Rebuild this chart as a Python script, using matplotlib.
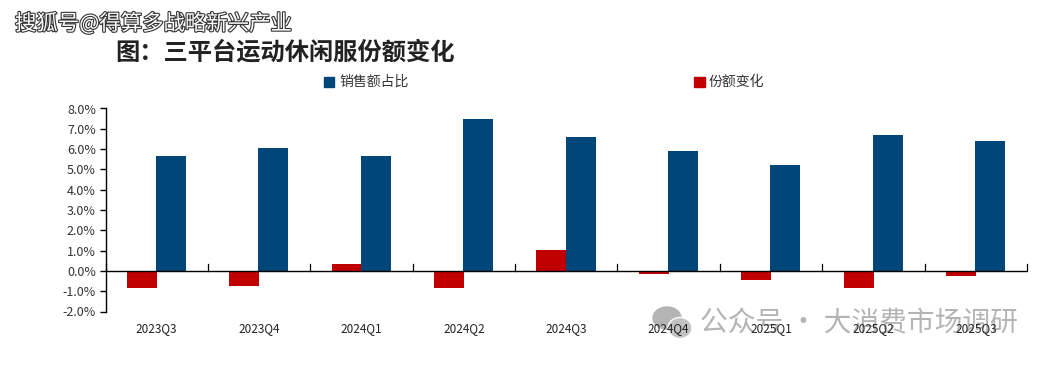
import numpy as np
import matplotlib
matplotlib.use('Agg')
import matplotlib.pyplot as plt
import matplotlib.patheffects as pe
from matplotlib.patches import Ellipse

plt.rcParams['font.family'] = ['Noto Sans CJK SC', 'DejaVu Sans']

quarters = ['2023Q3', '2023Q4', '2024Q1', '2024Q2', '2024Q3', '2024Q4', '2025Q1', '2025Q2', '2025Q3']
share = [5.65, 6.03, 5.65, 7.5, 6.6, 5.9, 5.2, 6.7, 6.4]
change = [-0.82, -0.72, 0.35, -0.82, 1.05, -0.13, -0.43, -0.82, -0.23]
yticks = [-2, -1, 0, 1, 2, 3, 4, 5, 6, 7, 8]

W, H = 1053, 366
BLUE = '#004679'
RED = '#c00000'

fig = plt.figure(figsize=(W / 100, H / 100), dpi=100)

def fx(x): return x / W
def fy(y): return 1 - y / H

# axes box in pixels of the reference
left, right, top, bottom = 105.5, 1027, 108.5, 311.5
ax = fig.add_axes([fx(left), fy(bottom), fx(right - left), fy(top) - fy(bottom)])

x = np.arange(len(quarters))
w = 0.293
ax.bar(x - 0.145, change, w, color=RED, label='份额变化', zorder=2)
ax.bar(x + 0.14, share, w, color=BLUE, label='销售额占比', zorder=2)

ax.set_xlim(-0.5, len(quarters) - 0.5)
ax.set_ylim(-2, 8)
for s in ['top', 'right', 'bottom']:
    ax.spines[s].set_visible(False)
ax.spines['left'].set_linewidth(1.0)

ax.set_yticks(yticks)
ax.set_yticklabels(['%.1f%%' % v for v in yticks], fontsize=9, color='#333333')
ax.tick_params(axis='y', direction='out', length=4, width=1, pad=3)

# category axis sits on zero, ticks between the groups pointing up
ax.axhline(0, color='black', lw=1.0, zorder=3)
ax.set_xticks([])
for b in np.arange(len(quarters) + 1) - 0.5:
    ax.plot([b, b], [0, 0.32], color='black', lw=0.9, zorder=3, clip_on=False)

# legend drawn by hand to sit in the same spots
fig.patches.append(plt.Rectangle((fx(324), fy(87)), 10 / W, 10 / H, color=BLUE, transform=fig.transFigure))
fig.text(fx(339), fy(82), '销售额占比', fontsize=10, va='center', color='#333333')
fig.patches.append(plt.Rectangle((fx(694), fy(87)), 11 / W, 10 / H, color=RED, transform=fig.transFigure))
fig.text(fx(709), fy(82), '份额变化', fontsize=10, va='center', color='#333333')

fig.text(fx(115), fy(52), '图：三平台运动休闲服份额变化', fontsize=17.5, fontweight='bold',
         va='center', color='#222222')

# sohu watermark
fig.text(fx(15), fy(24), '搜狐号@得算多战略新兴产业', fontsize=15.4, va='center', color='white',
         path_effects=[pe.withStroke(linewidth=1.6, foreground='#333333')])

# wechat watermark, the quarter labels lie on top of it
grey = '#b4b4b4'
fig.patches.append(Ellipse((fx(667), fy(318)), 28 / W, 22 / H, color=grey, transform=fig.transFigure, zorder=4))
fig.patches.append(Ellipse((fx(680), fy(328)), 24 / W, 21 / H, fc='#c2c2c2', ec='white', lw=1,
                           transform=fig.transFigure, zorder=4))
fig.text(fx(700), fy(323), '公众号 · 大消费市场调研', fontsize=20, va='center', color=grey, zorder=5)

for i, q in enumerate(quarters):
    px = left + (i + 0.5) * (right - left) / len(quarters)
    fig.text(fx(px), fy(329), q, ha='center', va='center', fontsize=8.5, color='#222222', zorder=6)

fig.savefig('out.png', dpi=100)
